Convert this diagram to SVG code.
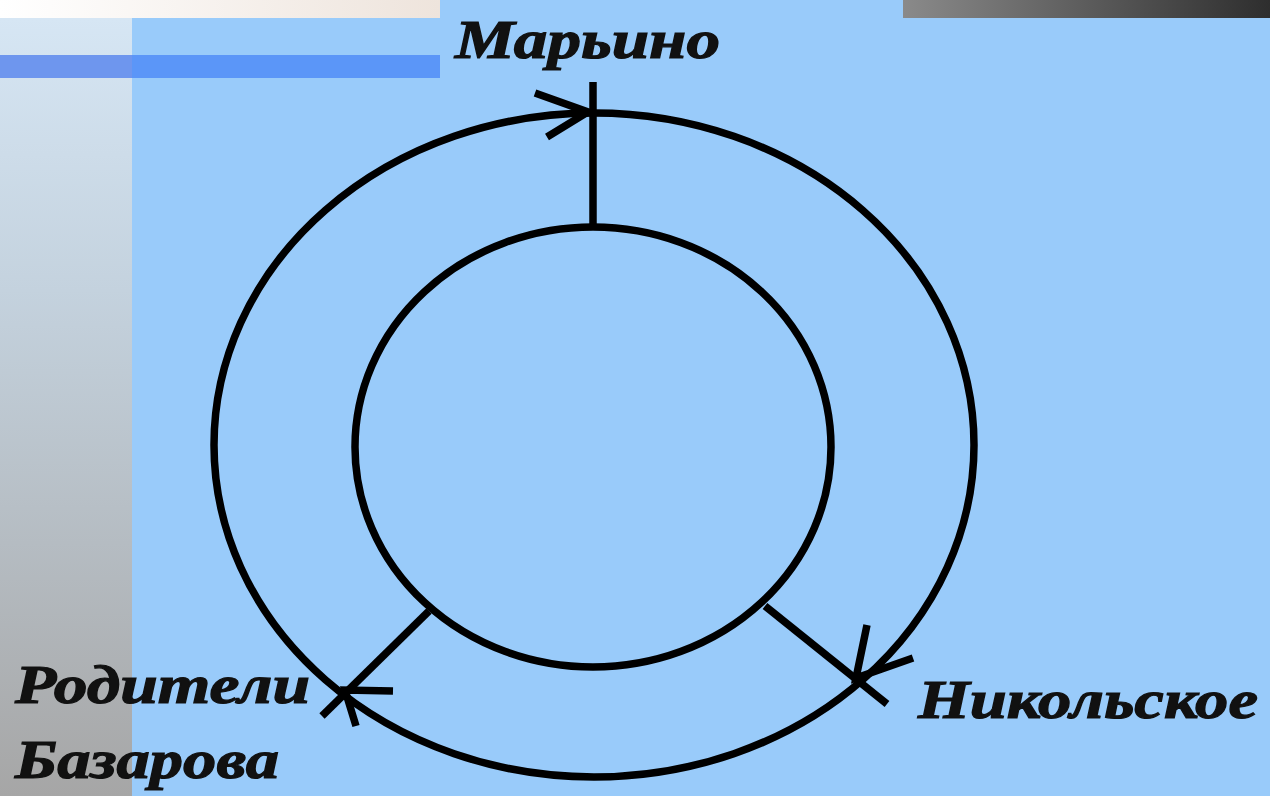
<svg xmlns="http://www.w3.org/2000/svg" width="1270" height="796" viewBox="0 0 1270 796">
<defs>
<linearGradient id="topbar" x1="0" y1="0" x2="1" y2="0"><stop offset="0" stop-color="#ffffff"/><stop offset="1" stop-color="#eee4dc"/></linearGradient>
<linearGradient id="leftcol" x1="0" y1="0" x2="0" y2="1"><stop offset="0" stop-color="#d6e6f4"/><stop offset="0.35" stop-color="#c4d2de"/><stop offset="1" stop-color="#a6a6a6"/></linearGradient>
<linearGradient id="darkbar" x1="0" y1="0" x2="1" y2="0"><stop offset="0" stop-color="#8a8a8a"/><stop offset="1" stop-color="#2e2e2e"/></linearGradient>
</defs>
<style>
.ln{fill:none;stroke:#000;stroke-width:7.5;stroke-linecap:butt}
.lbl{font-family:"Liberation Serif","DejaVu Serif",serif;font-weight:bold;font-style:italic;font-size:54px;fill:#111;stroke:#111;stroke-width:1.2}
</style>
<rect x="0" y="0" width="1270" height="796" fill="#99cbfa"/>
<rect x="0" y="18" width="132" height="778" fill="url(#leftcol)"/>
<rect x="0" y="0" width="440" height="18" fill="url(#topbar)"/>
<rect x="903" y="0" width="367" height="18" fill="url(#darkbar)"/>
<rect x="0" y="55" width="132" height="23" fill="#6e96ee"/>
<rect x="132" y="55" width="308" height="23" fill="#5b96f8"/>
<g id="outer"><ellipse class="ln" cx="594" cy="445" rx="380" ry="332"/></g>
<g id="inner"><ellipse class="ln" cx="593" cy="447" rx="238" ry="220"/></g>
<g id="connectors">
<line class="ln" x1="593" y1="82" x2="593" y2="227"/>
<polyline class="ln" points="535,93 588,112 547,137"/>
<line class="ln" x1="429" y1="611" x2="322" y2="716"/>
<polyline class="ln" points="393,691 345,690 356,726"/>
<line class="ln" x1="765" y1="606" x2="887" y2="704"/>
<polyline class="ln" points="867,625 856,678 913,658"/>
</g>
<g id="marino"><text class="lbl" x="455" y="58" textLength="265" lengthAdjust="spacingAndGlyphs">Марьино</text></g>
<g id="nikolskoe"><text class="lbl" x="918" y="718" textLength="340" lengthAdjust="spacingAndGlyphs">Никольское</text></g>
<g id="roditeli"><text class="lbl" x="15" y="703" textLength="295" lengthAdjust="spacingAndGlyphs">Родители</text><text class="lbl" x="15" y="778" textLength="264" lengthAdjust="spacingAndGlyphs">Базарова</text></g>
</svg>
